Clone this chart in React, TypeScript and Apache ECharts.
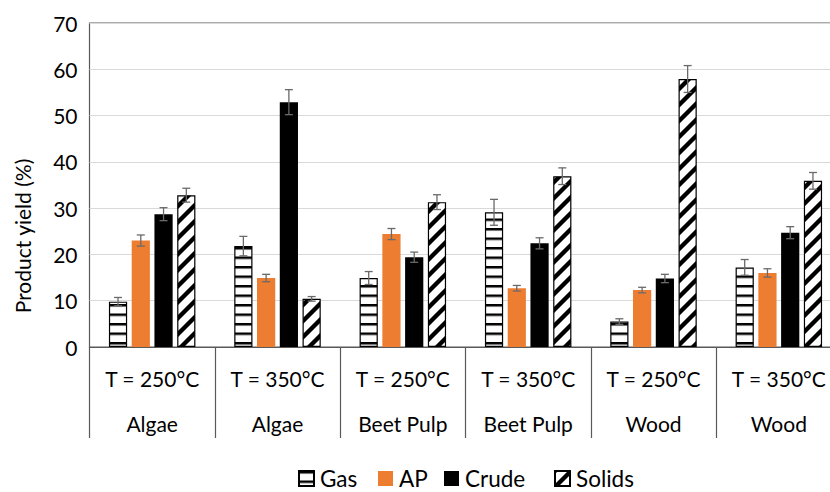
import React, { useEffect, useRef } from 'react';
import * as echarts from 'echarts';

const tempLabels = ['T = 250°C', 'T = 350°C', 'T = 250°C', 'T = 350°C', 'T = 250°C', 'T = 350°C'];
const feedLabels = ['Algae', 'Algae', 'Beet Pulp', 'Beet Pulp', 'Wood', 'Wood'];
const seriesNames = ['Gas', 'AP', 'Crude', 'Solids'];

const gasValues = [9.8, 21.8, 14.9, 29.1, 5.5, 17.2];
const apValues = [23.0, 14.9, 24.4, 12.7, 12.3, 16.0];
const crudeValues = [28.7, 52.9, 19.4, 22.4, 14.8, 24.7];
const solidsValues = [32.8, 10.4, 31.3, 36.9, 57.9, 35.9];

const gasErrors = [0.9, 2.1, 1.4, 2.8, 0.6, 1.7];
const apErrors = [1.2, 0.8, 1.2, 0.6, 0.6, 0.9];
const crudeErrors = [1.4, 2.7, 1.1, 1.2, 0.9, 1.3];
const solidsErrors = [1.5, 0.5, 1.6, 1.8, 2.9, 1.8];

const yMin = 0;
const yMax = 70;
const yInterval = 10;

const FONT = 'Lato';
const BAR_CATEGORY_GAP = 0.31;
const BAR_GAP = 0.25;
const legendLefts = [298, 378, 444, 554];

function makeHStripe() {
  const s = 4;
  const c = document.createElement('canvas');
  c.width = 10 * s;
  c.height = 38;
  const ctx = c.getContext('2d')!;
  ctx.fillStyle = '#ffffff';
  ctx.fillRect(0, 0, c.width, c.height);
  ctx.fillStyle = '#000000';
  ctx.fillRect(0, 0, c.width, 10);
  return { image: c, repeat: 'repeat', imageWidth: 10, imageHeight: 9.5 };
}

function makeDiag() {
  const P = 16;
  const s = 4;
  const c = document.createElement('canvas');
  c.width = P * s;
  c.height = P * s;
  const ctx = c.getContext('2d')!;
  ctx.fillStyle = '#ffffff';
  ctx.fillRect(0, 0, c.width, c.height);
  ctx.strokeStyle = '#000000';
  ctx.lineWidth = 4.3 * s;
  for (const x0 of [-P, 0, P]) {
    ctx.beginPath();
    ctx.moveTo((x0 - P) * s, 2 * P * s);
    ctx.lineTo((x0 + 2 * P) * s, -P * s);
    ctx.stroke();
  }
  return { image: c, repeat: 'repeat', imageWidth: P, imageHeight: P };
}

export default function App() {
  const ref = useRef<HTMLDivElement>(null);

  useEffect(() => {
    if (!ref.current) return;
    const chart = echarts.init(ref.current, null, { renderer: 'svg' });

    const values = [gasValues, apValues, crudeValues, solidsValues];
    const errors = [gasErrors, apErrors, crudeErrors, solidsErrors];
    const errData: number[][] = [];
    values.forEach((vals, s) => vals.forEach((v, c) => errData.push([c, v, errors[s][c], s])));

    const hStripe = makeHStripe();
    const diag = makeDiag();

    const styles: any[] = [
      { color: hStripe, borderColor: '#000', borderWidth: 1.2 },
      { color: '#ED7D31' },
      { color: '#000000' },
      { color: diag, borderColor: '#000', borderWidth: 1.2 },
    ];

    const barSeries = seriesNames.map((name, i) => ({
      name,
      type: 'bar',
      data: values[i],
      itemStyle: styles[i],
      barGap: `${BAR_GAP * 100}%`,
      barCategoryGap: `${BAR_CATEGORY_GAP * 100}%`,
      z: 2,
    }));

    const legends = seriesNames.map((name, i) => ({
      data: [name],
      left: legendLefts[i],
      top: 467,
      padding: 0,
      icon: 'rect',
      itemWidth: 15,
      itemHeight: 15,
      textStyle: { fontFamily: FONT, fontSize: 22.5, lineHeight: 22, color: '#000', padding: [0, 0, 0, 1] },
    }));

    chart.setOption({
      animation: false,
      grid: {
        left: 89.5,
        right: 0.5,
        top: 23,
        bottom: 145,
        show: true,
        borderColor: '#595959',
        borderWidth: 1.2,
        backgroundColor: 'transparent',
      },
      legend: legends,
      xAxis: {
        type: 'category',
        data: tempLabels,
        boundaryGap: true,
        axisLine: { show: true, lineStyle: { color: '#595959', width: 1.2 } },
        axisTick: { show: true, interval: 0, length: 91, lineStyle: { color: '#595959', width: 1.2 } },
        axisLabel: {
          interval: 0,
          margin: 8.5,
          formatter: (v: string, i: number) => `{t|${v}}\n{m|${feedLabels[i]}}`,
          rich: {
            t: { fontFamily: FONT, fontSize: 21, lineHeight: 45, color: '#000' },
            m: { fontFamily: FONT, fontSize: 21, lineHeight: 45, color: '#000' },
          },
        },
      },
      yAxis: {
        type: 'value',
        min: yMin,
        max: yMax,
        interval: yInterval,
        axisLine: { show: false },
        axisTick: { show: false },
        splitLine: { show: true, lineStyle: { color: '#d9d9d9', width: 1.2 } },
        axisLabel: { fontFamily: FONT, fontSize: 21, color: '#000', margin: 12 },
      },
      graphic: [
        {
          type: 'text',
          x: 22,
          y: 236,
          rotation: Math.PI / 2,
          style: {
            text: 'Product yield (%)',
            font: `21px ${FONT}`,
            fill: '#000',
            align: 'center',
            verticalAlign: 'middle',
            textAlign: 'center',
            textVerticalAlign: 'middle',
          },
        },
      ],
      series: [
        ...barSeries,
        {
          type: 'custom',
          z: 5,
          data: errData,
          encode: { x: 0, y: 1 },
          renderItem: (params: any, api: any) => {
            const c = api.value(0);
            const v = api.value(1);
            const e = api.value(2);
            const s = api.value(3);
            const band = api.size([1, 0])[0];
            const bw = (band * (1 - BAR_CATEGORY_GAP)) / (4 + 3 * BAR_GAP);
            const x = api.coord([c, v])[0] + (s - 1.5) * bw * (1 + BAR_GAP);
            const yT = api.coord([c, v + e])[1];
            const yB = api.coord([c, v - e])[1];
            const half = 4;
            const style = { stroke: '#6a6a6a', lineWidth: 1.3 };
            return {
              type: 'group',
              children: [
                { type: 'line', shape: { x1: x, y1: yT, x2: x, y2: yB }, style },
                { type: 'line', shape: { x1: x - half, y1: yT, x2: x + half, y2: yT }, style },
                { type: 'line', shape: { x1: x - half, y1: yB, x2: x + half, y2: yB }, style },
              ],
            };
          },
        },
      ],
    } as any);

    return () => chart.dispose();
  }, []);

  return (
    <div style={{ position: 'fixed', left: 0, top: 0, width: 830, height: 492, overflow: 'hidden', background: '#fff' }}>
      <div ref={ref} style={{ width: 842, height: 492 }} />
    </div>
  );
}
